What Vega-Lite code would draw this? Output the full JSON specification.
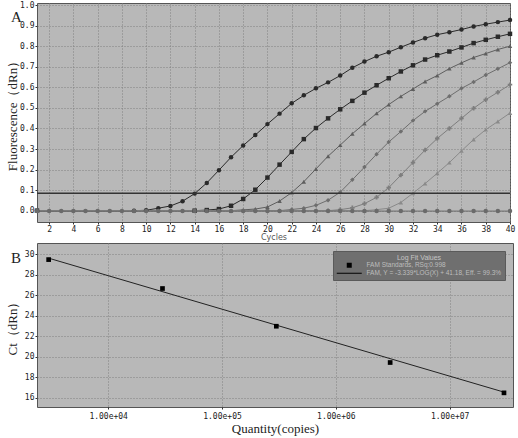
{
  "$schema": "https://vega.github.io/schema/vega-lite/v6.json",
  "padding": {"left": 5, "top": 0, "right": 4, "bottom": 0},
  "spacing": 0,
  "background": "white",
  "resolve": {"scale": {"shape": "independent", "color": "independent"}, "legend": {"shape": "independent", "color": "independent"}},
  "config": {
    "view": {"fill": "#b8b8b8", "stroke": "#555", "strokeWidth": 1},
    "axis": {"grid": true, "gridColor": "#808080", "gridDash": [1, 2], "gridWidth": 1, "domain": false, "tickColor": "#333", "tickSize": 2, "labelFont": "DejaVu Sans Mono", "labelFontSize": 8, "labelColor": "#222", "labelPadding": 1, "labelOverlap": false, "labelFlush": false, "titleFont": "Liberation Serif", "titleFontWeight": "normal", "titleColor": "#222", "titleFontSize": 13}
  },
  "vconcat": [
    {
      "width": 473,
      "height": 219,
      "title": {"text": "A", "orient": "top", "anchor": "start", "frame": "bounds", "offset": -24, "dx": 5, "font": "Liberation Serif", "fontSize": 15, "fontWeight": "normal", "color": "#222"},
      "data": {"values": [
        {"s": "s1", "c": 1, "v": 0}, {"s": "s1", "c": 9, "v": 0}, {"s": "s1", "c": 10, "v": 0.002}, {"s": "s1", "c": 11, "v": 0.012}, {"s": "s1", "c": 12, "v": 0.023}, {"s": "s1", "c": 13, "v": 0.046}, {"s": "s1", "c": 14, "v": 0.083}, {"s": "s1", "c": 15, "v": 0.135}, {"s": "s1", "c": 16, "v": 0.197}, {"s": "s1", "c": 17, "v": 0.26}, {"s": "s1", "c": 18, "v": 0.317}, {"s": "s1", "c": 19, "v": 0.368}, {"s": "s1", "c": 20, "v": 0.421}, {"s": "s1", "c": 21, "v": 0.472}, {"s": "s1", "c": 22, "v": 0.522}, {"s": "s1", "c": 23, "v": 0.561}, {"s": "s1", "c": 24, "v": 0.595}, {"s": "s1", "c": 25, "v": 0.624}, {"s": "s1", "c": 26, "v": 0.657}, {"s": "s1", "c": 27, "v": 0.695}, {"s": "s1", "c": 28, "v": 0.725}, {"s": "s1", "c": 29, "v": 0.751}, {"s": "s1", "c": 30, "v": 0.771}, {"s": "s1", "c": 31, "v": 0.795}, {"s": "s1", "c": 32, "v": 0.818}, {"s": "s1", "c": 33, "v": 0.839}, {"s": "s1", "c": 34, "v": 0.856}, {"s": "s1", "c": 35, "v": 0.868}, {"s": "s1", "c": 36, "v": 0.881}, {"s": "s1", "c": 37, "v": 0.896}, {"s": "s1", "c": 38, "v": 0.907}, {"s": "s1", "c": 39, "v": 0.917}, {"s": "s1", "c": 40, "v": 0.927},
        {"s": "s2", "c": 1, "v": 0}, {"s": "s2", "c": 14, "v": 0}, {"s": "s2", "c": 15, "v": 0.003}, {"s": "s2", "c": 16, "v": 0.008}, {"s": "s2", "c": 17, "v": 0.024}, {"s": "s2", "c": 18, "v": 0.057}, {"s": "s2", "c": 19, "v": 0.102}, {"s": "s2", "c": 20, "v": 0.161}, {"s": "s2", "c": 21, "v": 0.224}, {"s": "s2", "c": 22, "v": 0.286}, {"s": "s2", "c": 23, "v": 0.348}, {"s": "s2", "c": 24, "v": 0.402}, {"s": "s2", "c": 25, "v": 0.449}, {"s": "s2", "c": 26, "v": 0.493}, {"s": "s2", "c": 27, "v": 0.534}, {"s": "s2", "c": 28, "v": 0.574}, {"s": "s2", "c": 29, "v": 0.61}, {"s": "s2", "c": 30, "v": 0.644}, {"s": "s2", "c": 31, "v": 0.677}, {"s": "s2", "c": 32, "v": 0.707}, {"s": "s2", "c": 33, "v": 0.735}, {"s": "s2", "c": 34, "v": 0.756}, {"s": "s2", "c": 35, "v": 0.774}, {"s": "s2", "c": 36, "v": 0.794}, {"s": "s2", "c": 37, "v": 0.815}, {"s": "s2", "c": 38, "v": 0.831}, {"s": "s2", "c": 39, "v": 0.846}, {"s": "s2", "c": 40, "v": 0.86},
        {"s": "s3", "c": 1, "v": 0}, {"s": "s3", "c": 17, "v": 0}, {"s": "s3", "c": 18, "v": 0.004}, {"s": "s3", "c": 19, "v": 0.008}, {"s": "s3", "c": 20, "v": 0.018}, {"s": "s3", "c": 21, "v": 0.047}, {"s": "s3", "c": 22, "v": 0.088}, {"s": "s3", "c": 23, "v": 0.141}, {"s": "s3", "c": 24, "v": 0.203}, {"s": "s3", "c": 25, "v": 0.265}, {"s": "s3", "c": 26, "v": 0.319}, {"s": "s3", "c": 27, "v": 0.374}, {"s": "s3", "c": 28, "v": 0.424}, {"s": "s3", "c": 29, "v": 0.473}, {"s": "s3", "c": 30, "v": 0.516}, {"s": "s3", "c": 31, "v": 0.556}, {"s": "s3", "c": 32, "v": 0.592}, {"s": "s3", "c": 33, "v": 0.628}, {"s": "s3", "c": 34, "v": 0.657}, {"s": "s3", "c": 35, "v": 0.691}, {"s": "s3", "c": 36, "v": 0.719}, {"s": "s3", "c": 37, "v": 0.745}, {"s": "s3", "c": 38, "v": 0.764}, {"s": "s3", "c": 39, "v": 0.784}, {"s": "s3", "c": 40, "v": 0.8},
        {"s": "s4", "c": 1, "v": 0}, {"s": "s4", "c": 21, "v": 0}, {"s": "s4", "c": 22, "v": 0.006}, {"s": "s4", "c": 23, "v": 0.012}, {"s": "s4", "c": 24, "v": 0.026}, {"s": "s4", "c": 25, "v": 0.051}, {"s": "s4", "c": 26, "v": 0.09}, {"s": "s4", "c": 27, "v": 0.15}, {"s": "s4", "c": 28, "v": 0.212}, {"s": "s4", "c": 29, "v": 0.275}, {"s": "s4", "c": 30, "v": 0.334}, {"s": "s4", "c": 31, "v": 0.385}, {"s": "s4", "c": 32, "v": 0.438}, {"s": "s4", "c": 33, "v": 0.483}, {"s": "s4", "c": 34, "v": 0.52}, {"s": "s4", "c": 35, "v": 0.556}, {"s": "s4", "c": 36, "v": 0.595}, {"s": "s4", "c": 37, "v": 0.626}, {"s": "s4", "c": 38, "v": 0.66}, {"s": "s4", "c": 39, "v": 0.69}, {"s": "s4", "c": 40, "v": 0.72},
        {"s": "s5", "c": 1, "v": 0}, {"s": "s5", "c": 25, "v": 0}, {"s": "s5", "c": 26, "v": 0.005}, {"s": "s5", "c": 27, "v": 0.014}, {"s": "s5", "c": 28, "v": 0.034}, {"s": "s5", "c": 29, "v": 0.065}, {"s": "s5", "c": 30, "v": 0.112}, {"s": "s5", "c": 31, "v": 0.173}, {"s": "s5", "c": 32, "v": 0.234}, {"s": "s5", "c": 33, "v": 0.295}, {"s": "s5", "c": 34, "v": 0.351}, {"s": "s5", "c": 35, "v": 0.4}, {"s": "s5", "c": 36, "v": 0.449}, {"s": "s5", "c": 37, "v": 0.498}, {"s": "s5", "c": 38, "v": 0.54}, {"s": "s5", "c": 39, "v": 0.576}, {"s": "s5", "c": 40, "v": 0.613},
        {"s": "s6", "c": 1, "v": 0}, {"s": "s6", "c": 28, "v": 0}, {"s": "s6", "c": 29, "v": 0.005}, {"s": "s6", "c": 30, "v": 0.012}, {"s": "s6", "c": 31, "v": 0.04}, {"s": "s6", "c": 32, "v": 0.085}, {"s": "s6", "c": 33, "v": 0.132}, {"s": "s6", "c": 34, "v": 0.182}, {"s": "s6", "c": 35, "v": 0.234}, {"s": "s6", "c": 36, "v": 0.291}, {"s": "s6", "c": 37, "v": 0.346}, {"s": "s6", "c": 38, "v": 0.394}, {"s": "s6", "c": 39, "v": 0.434}, {"s": "s6", "c": 40, "v": 0.475},
        {"s": "ntc", "c": 1, "v": -0.002}, {"s": "ntc", "c": 2, "v": -0.002}, {"s": "ntc", "c": 3, "v": -0.002}, {"s": "ntc", "c": 4, "v": -0.002}, {"s": "ntc", "c": 5, "v": -0.002}, {"s": "ntc", "c": 6, "v": -0.002}, {"s": "ntc", "c": 7, "v": -0.002}, {"s": "ntc", "c": 8, "v": -0.002}, {"s": "ntc", "c": 9, "v": -0.002}, {"s": "ntc", "c": 10, "v": -0.002}, {"s": "ntc", "c": 11, "v": -0.002}, {"s": "ntc", "c": 12, "v": -0.002}, {"s": "ntc", "c": 13, "v": -0.002}, {"s": "ntc", "c": 14, "v": -0.002}, {"s": "ntc", "c": 15, "v": -0.002}, {"s": "ntc", "c": 16, "v": -0.002}, {"s": "ntc", "c": 17, "v": -0.002}, {"s": "ntc", "c": 18, "v": -0.002}, {"s": "ntc", "c": 19, "v": -0.002}, {"s": "ntc", "c": 20, "v": -0.002}, {"s": "ntc", "c": 21, "v": -0.002}, {"s": "ntc", "c": 22, "v": -0.002}, {"s": "ntc", "c": 23, "v": -0.002}, {"s": "ntc", "c": 24, "v": -0.002}, {"s": "ntc", "c": 25, "v": -0.002}, {"s": "ntc", "c": 26, "v": -0.002}, {"s": "ntc", "c": 27, "v": -0.002}, {"s": "ntc", "c": 28, "v": -0.002}, {"s": "ntc", "c": 29, "v": -0.002}, {"s": "ntc", "c": 30, "v": -0.002}, {"s": "ntc", "c": 31, "v": -0.002}, {"s": "ntc", "c": 32, "v": -0.002}, {"s": "ntc", "c": 33, "v": -0.002}, {"s": "ntc", "c": 34, "v": -0.002}, {"s": "ntc", "c": 35, "v": -0.002}, {"s": "ntc", "c": 36, "v": -0.002}, {"s": "ntc", "c": 37, "v": -0.002}, {"s": "ntc", "c": 38, "v": -0.002}, {"s": "ntc", "c": 39, "v": -0.002}, {"s": "ntc", "c": 40, "v": -0.002}
      ]},
      "layer": [
        {
          "mark": {"type": "line", "strokeWidth": 1},
          "encoding": {
            "x": {"field": "c", "type": "quantitative", "scale": {"domain": [1, 40], "nice": false, "zero": false}, "axis": {"values": [2, 4, 6, 8, 10, 12, 14, 16, 18, 20, 22, 24, 26, 28, 30, 32, 34, 36, 38, 40], "tickCount": 100, "format": "d", "labelOverlap": false, "labelFlush": false, "title": "Cycles", "titleFont": "DejaVu Sans", "titleFontSize": 8, "titleColor": "#555", "titlePadding": 0}},
            "y": {"field": "v", "type": "quantitative", "scale": {"domain": [-0.055, 1.01], "nice": false, "zero": false}, "axis": {"values": [0, 0.1, 0.2, 0.3, 0.4, 0.5, 0.6, 0.7, 0.8, 0.9, 1.0], "tickCount": 100, "labelOverlap": false, "labelFlush": false, "format": ".1f", "title": "Fluorescence（dRn）", "minExtent": 17, "maxExtent": 17, "titlePadding": 1}},
            "color": {"field": "s", "type": "nominal", "scale": {"domain": ["s1", "s2", "s3", "s4", "s5", "s6", "ntc"], "range": ["#2a2a2a", "#2a2a2a", "#5e5e5e", "#6e6e6e", "#7e7e7e", "#8a8a8a", "#6a6a6a"]}, "legend": null}
          }
        },
        {
          "mark": {"type": "point", "filled": true, "opacity": 1, "size": 20},
          "encoding": {
            "x": {"field": "c", "type": "quantitative"},
            "y": {"field": "v", "type": "quantitative"},
            "shape": {"field": "s", "type": "nominal", "scale": {"domain": ["s1", "s2", "s3", "s4", "s5", "s6", "ntc"], "range": ["circle", "square", "triangle-up", "diamond", "cross", "triangle-up", "circle"]}, "legend": null},
            "color": {"field": "s", "type": "nominal", "scale": {"domain": ["s1", "s2", "s3", "s4", "s5", "s6", "ntc"], "range": ["#000000", "#000000", "#5a5a5a", "#6a6a6a", "#7a7a7a", "#8a8a8a", "#777777"]}, "legend": null}
          }
        },
        {
          "data": {"values": [{"t": 0.085}]},
          "mark": {"type": "rule", "color": "#333", "strokeWidth": 1.5},
          "encoding": {"y": {"field": "t", "type": "quantitative"}}
        }
      ]
    },
    {
      "width": 476,
      "height": 164,
      "title": {"text": "B", "orient": "top", "anchor": "start", "frame": "bounds", "offset": -23, "dx": 5, "font": "Liberation Serif", "fontSize": 15, "fontWeight": "normal", "color": "#222"},
      "layer": [
        {
          "data": {"values": [{"q": 3000, "ct": 29.62}, {"q": 30000000, "ct": 16.55}]},
          "mark": {"type": "line", "color": "#222", "strokeWidth": 1},
          "encoding": {
            "x": {"field": "q", "type": "quantitative", "scale": {"type": "log", "domain": [2370, 36000000], "nice": false}, "axis": {"values": [10000, 100000, 1000000, 10000000], "tickCount": 100, "labelOverlap": false, "labelFlush": false, "format": ".2e", "labelExpr": "replace(datum.label, 'e+', 'e+0')", "title": "Quantity(copies)", "titlePadding": 2, "labelPadding": 3}},
            "y": {"field": "ct", "type": "quantitative", "scale": {"domain": [15.1, 31.1], "nice": false, "zero": false}, "axis": {"values": [16, 18, 20, 22, 24, 26, 28, 30], "tickCount": 100, "format": "d", "labelOverlap": false, "labelFlush": false, "title": "Ct（dRn）", "minExtent": 17, "maxExtent": 17, "titlePadding": 1}}
          }
        },
        {
          "data": {"values": [
            {"q": 3000, "ct": 29.48, "k": "FAM Standards, RSq:0.998"},
            {"q": 30000, "ct": 26.66, "k": "FAM Standards, RSq:0.998"},
            {"q": 300000, "ct": 22.98, "k": "FAM Standards, RSq:0.998"},
            {"q": 3000000, "ct": 19.44, "k": "FAM Standards, RSq:0.998"},
            {"q": 30000000, "ct": 16.48, "k": "FAM Standards, RSq:0.998"}
          ]},
          "mark": {"type": "point", "filled": true, "opacity": 1, "size": 22},
          "encoding": {
            "x": {"field": "q", "type": "quantitative"},
            "y": {"field": "ct", "type": "quantitative"},
            "color": {"value": "#000"},
            "shape": {"field": "k", "type": "nominal", "scale": {"domain": ["FAM Standards, RSq:0.998", "FAM, Y = -3.339*LOG(X) + 41.18, Eff. = 99.3%"], "range": ["square", "M-5,-0.2H5V0.2H-5Z"]},
              "legend": {"title": "Log Fit Values", "orient": "top-right", "offset": 8, "fillColor": "#6f6f6f", "strokeColor": "#5a5a5a", "padding": 3, "titleColor": "#c4c4c4", "titleFontSize": 7, "titleFont": "Liberation Sans", "titleFontWeight": "normal", "titleAnchor": "middle", "titlePadding": 1, "labelColor": "#bdbdbd", "labelFontSize": 6.5, "labelFont": "Liberation Sans", "labelLimit": 300, "labelOffset": 14, "symbolOffset": 10, "rowPadding": 1, "symbolFillColor": "#000", "symbolStrokeColor": "#111", "symbolStrokeWidth": 0.5, "symbolSize": 25}}
          }
        }
      ]
    }
  ]
}
